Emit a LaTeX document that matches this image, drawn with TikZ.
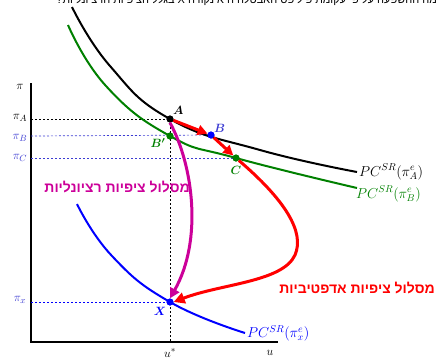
\documentclass[tikz,border=0pt]{standalone}
\usepackage{amsmath}
\usepackage{fontspec}
\usetikzlibrary{arrows.meta}
\newfontfamily\hebfont[Script=Hebrew]{Liberation Sans}
\TeXXeTstate=1
\definecolor{pcgreen}{RGB}{0,128,0}
\definecolor{pcblue}{RGB}{0,0,255}
\definecolor{lblblue}{RGB}{60,60,210}
\definecolor{mag}{RGB}{204,0,153}
\begin{document}
\begin{tikzpicture}[x=1pt,y=-1pt,
  dot/.style={circle,inner sep=0pt,minimum size=7pt},
  pcurve/.style={line width=2pt},
  guide/.style={dash pattern=on 2pt off 2pt,line width=0.7pt},
  lbl/.style={font=\fontsize{13}{15}\selectfont,inner sep=1pt},
  pclbl/.style={font=\fontsize{14}{16}\selectfont,inner sep=1pt,anchor=west},
  redarrow/.style={red,line width=3pt,-{Triangle[length=10pt,width=10pt]}},
  magarrow/.style={mag,line width=3pt,-{Triangle[length=10pt,width=10pt]}},
  heb/.style={font=\hebfont\bfseries\fontsize{14}{16}\selectfont,inner sep=0pt}]
\useasboundingbox (0,0) rectangle (442,360);
\begin{scope}
\clip (0,0) rectangle (442,360);
\node[font=\hebfont\fontsize{11}{13}\selectfont,anchor=base east,inner sep=0pt] (top) at (437,3) {\beginR מה ההשפעה על פי עקומת פיליפס האבטלה היא נקודה \beginL X\endL{} בגלל הציפיות הרציונליות?\endR};
\end{scope}
% axes
\coordinate (O) at (31,342);
\coordinate (ytop) at (31,83);
\coordinate (xend) at (278,342);
\draw[line width=1.2pt] (ytop) -- (O) -- (xend);
% points
\node[dot,fill=black] (A) at (170,119) {};
\node[dot,fill=pcblue] (B) at (211,135) {};
\node[dot,fill=pcgreen] (Bp) at (170,136) {};
\node[dot,fill=pcgreen] (C) at (236,158) {};
\node[dot,fill=pcblue] (X) at (170,302) {};
\coordinate (yA) at (31,119);
\coordinate (yB) at (31,136);
\coordinate (yC) at (31,158);
\coordinate (yX) at (31,302);
\coordinate (us) at (170,342);
% guides
\draw[guide] (yA) -- (A.center);
\draw[guide,lblblue] (yB) -- (B.center);
\draw[guide,lblblue] (yC) -- (C.center);
\draw[guide,pcblue] (yX) -- (X.center);
\draw[guide] (A.center) -- (us);
% curves
\draw[pcurve] plot[smooth,tension=0.8] coordinates {(72,7) (110,66) (170,119) (260,150) (357,172)};
\draw[pcurve,pcgreen] plot[smooth,tension=0.8] coordinates {(68,25) (106,86) (170,136) (236,158) (357,188)};
\draw[pcurve,pcblue] plot[smooth,tension=0.8] coordinates {(77,204) (112,256) (170,302) (245,333)};
% redraw dots on top
\node[dot,fill=black] at (A) {};
\node[dot,fill=pcblue] at (B) {};
\node[dot,fill=pcgreen] at (Bp) {};
\node[dot,fill=pcgreen] at (C) {};
% paths
\draw[magarrow] (A.south) .. controls (193,165) and (203,240) .. (X.north);
\draw[redarrow] (A) -- (B);
\draw[redarrow] (B) -- (C);
\draw[red,line width=3pt,-{Triangle[length=11pt,width=11pt]}] (C) .. controls (285,200) and (305,232) .. (295,255) .. controls (283,282) and (220,284) .. (X.east);
\node[dot,fill=pcblue] at (X) {};
% labels
\node[lbl,anchor=south west] (lA) at (172,116) {$\boldsymbol{A}$};
\node[lbl,anchor=south west,lblblue] (lB) at (213,134) {$\boldsymbol{B}$};
\node[lbl,pcgreen] (lBp) at (158,143) {$\boldsymbol{B'}$};
\node[lbl,pcgreen] (lC) at (236,170) {$\boldsymbol{C}$};
\node[lbl,pcblue] (lX) at (160,311) {$\boldsymbol{X}$};
\node[lbl] (lpi) at (20,87) {$\pi$};
\node[lbl] (lpA) at (20,118) {$\pi_A$};
\node[lbl,lblblue] (lpB) at (20,138) {$\pi_B$};
\node[lbl,lblblue] (lpC) at (20,158) {$\pi_C$};
\node[lbl,lblblue] (lpX) at (20,300) {$\pi_x$};
\node[lbl] (lus) at (170,353) {$u^*$};
\node[lbl] (lu) at (270,353) {$u$};
\node[pclbl] (l1) at (358,172) {$PC^{SR}(\pi_A^e)$};
\node[pclbl,pcgreen] (l2) at (355,194) {$PC^{SR}(\pi_B^e)$};
\node[pclbl,pcblue] (l3) at (246,333) {$PC^{SR}(\pi_x^e)$};
\node[heb,mag,anchor=east] (hm) at (190,187) {\beginR מסלול ציפיות רציונליות\endR};
\node[heb,red,anchor=east] (hr) at (435,288) {\beginR מסלול ציפיות אדפטיביות\endR};
\end{tikzpicture}
\end{document}
